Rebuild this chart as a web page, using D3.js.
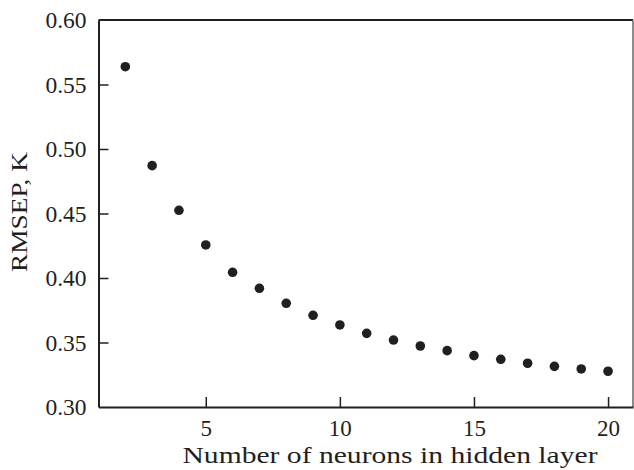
<!DOCTYPE html>
<html>
<head>
<meta charset="utf-8">
<script src="https://cdn.jsdelivr.net/npm/d3@7/dist/d3.min.js"></script>
<style>
  html, body { margin: 0; padding: 0; background: #fff; }
</style>
</head>
<body>
<svg id="chart" width="634" height="470"></svg>
<script>
const neurons = [2, 3, 4, 5, 6, 7, 8, 9, 10, 11, 12, 13, 14, 15, 16, 17, 18, 19, 20];
const rmsep = [0.5638, 0.4871, 0.4525, 0.4256, 0.4044, 0.3920, 0.3804, 0.3711, 0.3636, 0.3571, 0.3519, 0.3473, 0.3437, 0.3398, 0.3370, 0.3339, 0.3315, 0.3295, 0.3277];
const xTicks = [5, 10, 15, 20];
const yTicks = [0.30, 0.35, 0.40, 0.45, 0.50, 0.55, 0.60];
const xTitle = "Number of neurons in hidden layer";
const yTitle = "RMSEP, K";

const FONT = "'Liberation Serif'";
const svg = d3.select("#chart");
const mLeft = 98.5, mRight = 633, mTop = 20, mBottom = 407;
const x = d3.scaleLinear().domain([1, 20.93]).range([mLeft, mRight]);
const y = d3.scaleLinear().domain([0.30, 0.60]).range([mBottom, mTop]);
const ink = "#231f20";

// frame
svg.append("line").attr("x1", mLeft).attr("x2", mRight).attr("y1", mTop).attr("y2", mTop)
  .attr("stroke", ink).attr("stroke-width", 2);
svg.append("line").attr("x1", mRight).attr("x2", mRight).attr("y1", mTop).attr("y2", mBottom)
  .attr("stroke", "#666").attr("stroke-width", 1.5);

// x axis
const xAxis = svg.append("g").attr("transform", `translate(0,${mBottom})`)
  .call(d3.axisBottom(x).tickValues(xTicks).tickSizeInner(-10).tickSizeOuter(0).tickPadding(13).tickFormat(d3.format("d")));
xAxis.attr("font-family", null).attr("font-size", null);
xAxis.select(".domain").attr("stroke", ink).attr("stroke-width", 2);
xAxis.selectAll(".tick line").attr("stroke", ink).attr("stroke-width", 1.5);
xAxis.selectAll(".tick text").style("font-size", "23px").style("fill", ink).style("font-family", FONT);

// y axis
const yAxis = svg.append("g").attr("transform", `translate(${mLeft},0)`)
  .call(d3.axisLeft(y).tickValues(yTicks).tickSizeInner(-10).tickSizeOuter(0).tickPadding(12).tickFormat(d3.format(".2f")));
yAxis.attr("font-family", null).attr("font-size", null);
yAxis.select(".domain").attr("stroke", ink).attr("stroke-width", 2);
yAxis.selectAll(".tick line").attr("stroke", ink).attr("stroke-width", 1.5)
  .filter(d => d === 0.30 || d === 0.60).remove();
yAxis.selectAll(".tick text").style("font-size", "23.5px").style("fill", ink).style("font-family", FONT);

// points
svg.append("g").selectAll("circle").data(neurons).join("circle")
  .attr("cx", (d) => x(d))
  .attr("cy", (d, i) => y(rmsep[i]))
  .attr("r", 4.8)
  .attr("fill", ink);

// titles
svg.append("text").attr("x", 390).attr("y", 463).attr("text-anchor", "middle")
  .attr("textLength", 415).attr("lengthAdjust", "spacingAndGlyphs")
  .style("font-size", "22.5px").style("font-family", FONT).style("fill", ink).text(xTitle);
svg.append("text").attr("transform", "translate(27,212) rotate(-90)").attr("text-anchor", "middle")
  .attr("textLength", 120).attr("lengthAdjust", "spacingAndGlyphs")
  .style("font-size", "23.5px").style("font-family", FONT).style("fill", ink).text(yTitle);
</script>
</body>
</html>
